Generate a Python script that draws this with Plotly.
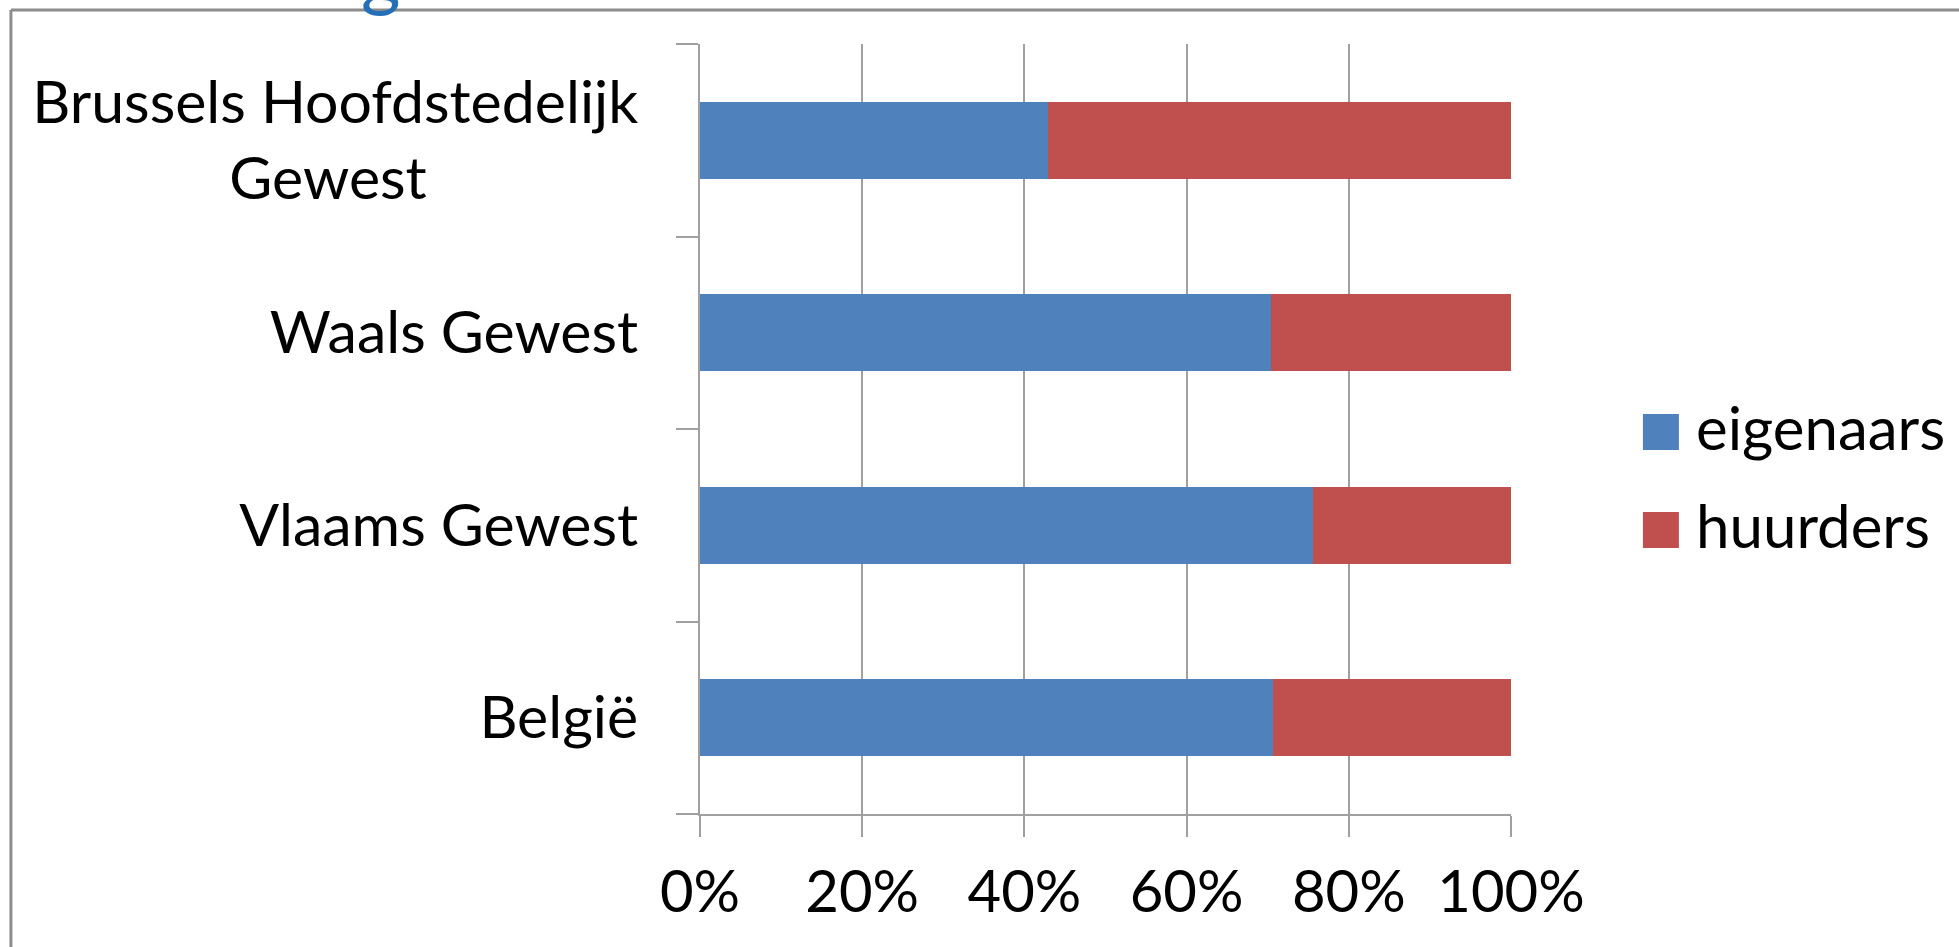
import plotly.graph_objects as go

categories = ["Brussels Hoofdstedelijk Gewest", "Waals Gewest", "Vlaams Gewest", "België"]
eigenaars = [0.429, 0.704, 0.756, 0.706]
huurders = [0.571, 0.296, 0.244, 0.294]
series_names = ["eigenaars", "huurders"]
series_colors = ["#4F81BD", "#C0504D"]
x_tickvals = [0, 0.2, 0.4, 0.6, 0.8, 1.0]

FONT = "Lato"
FS = 60

# display text for category ticks (first one split over two lines, centred)
def tick_text(c):
    if c.startswith("Brussels"):
        return "Brussels Hoofdstedelijk<br>Gewest" + "\u00a0" * 14
    return c

fig = go.Figure()
for name, vals, col in zip(series_names, [eigenaars, huurders], series_colors):
    fig.add_trace(go.Bar(
        y=categories, x=vals, name=name, orientation="h",
        marker=dict(color=col, line=dict(width=0)),
        showlegend=False,
    ))

W, H = 1959, 947
L, R, T, B = 699.5, 448, 44, 133
pw, ph = W - L - R, H - T - B

def px(xp):
    return (xp - L) / pw

def py(yp):
    return (H - B - yp) / ph

fig.update_layout(
    width=W, height=H,
    margin=dict(l=L, r=R, t=T, b=B, pad=0),
    barmode="stack", bargap=0.6,
    plot_bgcolor="white", paper_bgcolor="white",
    font=dict(family=FONT, size=FS, color="black"),
    showlegend=False,
)
fig.update_xaxes(
    range=[0, 1], tickvals=x_tickvals, tickformat=".0%",
    showgrid=True, gridcolor="#A0A0A0", gridwidth=2,
    showline=True, linecolor="#A0A0A0", linewidth=2,
    ticks="outside", ticklen=21, tickwidth=2, tickcolor="#A0A0A0",
    zeroline=False, automargin=False, ticklabelstandoff=5,
    tickfont=dict(family=FONT, size=58, color="black"),
)
fig.update_yaxes(
    autorange="reversed", tickvals=categories,
    ticktext=[tick_text(c) for c in categories],
    tickson="boundaries", showgrid=False,
    showline=True, linecolor="#A0A0A0", linewidth=2,
    ticks="outside", ticklen=22, tickwidth=2, tickcolor="#A0A0A0",
    automargin=False, ticklabelstandoff=48,
    tickfont=dict(family=FONT, size=59, color="black"),
)

# custom legend with large swatches
legend_y = [432, 530]
for name, col, yc in zip(series_names, series_colors, legend_y):
    fig.add_shape(type="rect", xref="paper", yref="paper",
                  x0=px(1643), x1=px(1679), y0=py(yc - 18), y1=py(yc + 18),
                  fillcolor=col, line=dict(width=0))
    fig.add_annotation(xref="paper", yref="paper", x=px(1694), y=py(yc - 5),
                       xanchor="left", yanchor="middle", text=name,
                       showarrow=False, font=dict(family=FONT, size=FS, color="black"))

# frame of the chart area (partly cropped)
fig.add_shape(type="line", xref="paper", yref="paper",
              x0=px(10), x1=px(10), y0=py(10), y1=py(1000),
              line=dict(color="#8C8C8C", width=3))
fig.add_shape(type="line", xref="paper", yref="paper",
              x0=px(10), x1=px(2000), y0=py(10), y1=py(10),
              line=dict(color="#8C8C8C", width=3))

# cropped slide title (only the descender of the last letter is visible)
fig.add_annotation(xref="paper", yref="paper", x=px(380), y=py(20),
                   xanchor="center", yanchor="bottom", text="g",
                   showarrow=False, font=dict(family=FONT, size=76, color="#2470B8"))

fig.write_html("out.html",
               config={"displayModeBar": False},
               post_script="document.body.style.margin='0';document.body.style.padding='0';")
